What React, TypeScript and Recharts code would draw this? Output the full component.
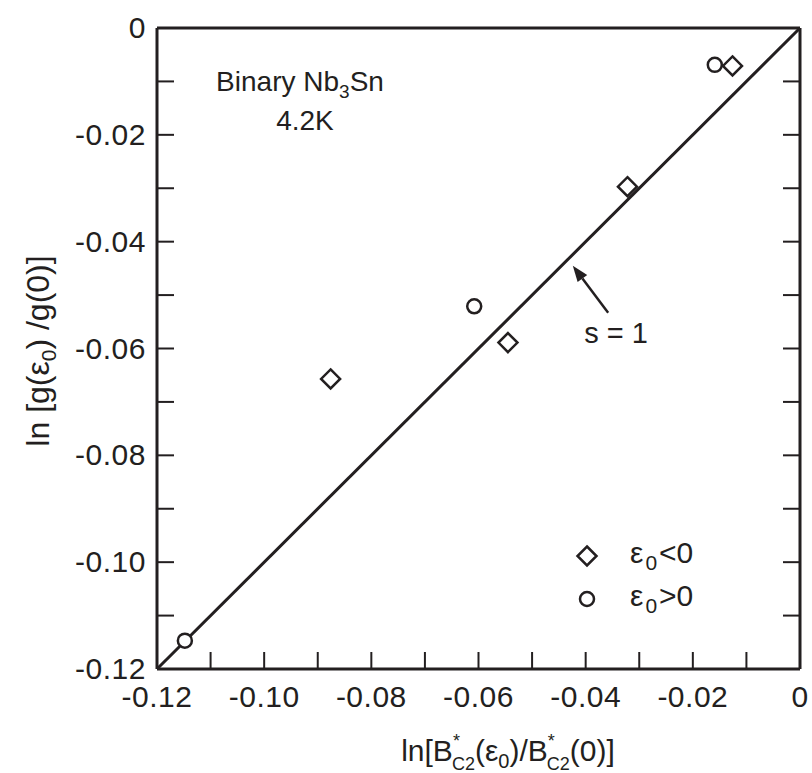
import { ScatterChart, Scatter, XAxis, YAxis, ReferenceLine, Legend } from "recharts"

// strain data
const negStrain = [
  { x: -0.0876, y: -0.0657 },
  { x: -0.0545, y: -0.0589 },
  { x: -0.0322, y: -0.0297 },
  { x: -0.0126, y: -0.0071 },
]
const posStrain = [
  { x: -0.1148, y: -0.1147 },
  { x: -0.0608, y: -0.0521 },
  { x: -0.0159, y: -0.0069 },
]
// s = 1 line and its arrow
const unityLine = [
  { x: -0.12, y: -0.12 },
  { x: 0, y: 0 },
]
const arrowSeg = [
  { x: -0.0358, y: -0.0533 },
  { x: -0.0424, y: -0.0445 },
]

const xTicks = [-0.12, -0.11, -0.1, -0.09, -0.08, -0.07, -0.06, -0.05, -0.04, -0.03, -0.02, -0.01, 0]
const yTicks = [-0.12, -0.11, -0.1, -0.09, -0.08, -0.07, -0.06, -0.05, -0.04, -0.03, -0.02, -0.01, 0]

const INK = "#231f20"
const FONT = "'Liberation Sans', Arial, Helvetica, sans-serif"
const TICK_LEN = 17

const isMajor = (v: number) => Math.round(Math.abs(v) * 100) % 2 === 0
const fmt = (v: number) => (Math.abs(v) < 1e-9 ? "0" : v.toFixed(2))

function BottomTick(props: any) {
  const { x, y, payload } = props
  return (
    <g>
      <line x1={x} y1={y} x2={x} y2={y - TICK_LEN} stroke={INK} strokeWidth={2} />
      {isMajor(payload.value) && (
        <text x={x} y={y + 38} textAnchor="middle" fontSize={30} letterSpacing={0.5} fontFamily={FONT} fill={INK}>
          {fmt(payload.value)}
        </text>
      )}
    </g>
  )
}

function TopTick(props: any) {
  const { x, y } = props
  return <line x1={x} y1={y} x2={x} y2={y + TICK_LEN} stroke={INK} strokeWidth={2} />
}

function LeftTick(props: any) {
  const { x, y, payload } = props
  return (
    <g>
      <line x1={x} y1={y} x2={x + TICK_LEN} y2={y} stroke={INK} strokeWidth={2} />
      {isMajor(payload.value) && (
        <text x={x - 11} y={y + 10} textAnchor="end" fontSize={30} letterSpacing={0.5} fontFamily={FONT} fill={INK}>
          {fmt(payload.value)}
        </text>
      )}
    </g>
  )
}

function RightTick(props: any) {
  const { x, y } = props
  return <line x1={x} y1={y} x2={x - TICK_LEN} y2={y} stroke={INK} strokeWidth={2} />
}

function DiamondShape(props: any) {
  const { cx, cy } = props
  const r = 9.5
  return (
    <polygon
      points={`${cx},${cy - r} ${cx + r},${cy} ${cx},${cy + r} ${cx - r},${cy}`}
      fill="#fff"
      stroke={INK}
      strokeWidth={2.5}
    />
  )
}

function CircleShape(props: any) {
  const { cx, cy } = props
  return <circle cx={cx} cy={cy} r={7} fill="#fff" stroke={INK} strokeWidth={2.5} />
}

function ArrowShape(props: any) {
  const { x1, y1, x2, y2 } = props
  const ang = Math.atan2(y2 - y1, x2 - x1)
  const len = 16
  const half = 6
  const bx = x2 - len * Math.cos(ang)
  const by = y2 - len * Math.sin(ang)
  const px = -Math.sin(ang) * half
  const py = Math.cos(ang) * half
  return (
    <g>
      <line x1={x1} y1={y1} x2={bx} y2={by} stroke={INK} strokeWidth={2.5} />
      <polygon points={`${x2},${y2} ${bx + px},${by + py} ${bx - px},${by - py}`} fill={INK} />
    </g>
  )
}

function LegendBox() {
  const row = (shape: "diamond" | "circle", sign: string) => (
    <div style={{ display: "flex", alignItems: "center", height: 43 }}>
      <svg width={24} height={24} style={{ marginRight: 31 }}>
        {shape === "diamond" ? <DiamondShape cx={12} cy={12} /> : <CircleShape cx={12} cy={12} />}
      </svg>
      <span style={{ fontSize: 30, fontFamily: FONT, color: INK, lineHeight: 1, whiteSpace: "nowrap" }}>
        ε<sub style={{ fontSize: 21, verticalAlign: -7, margin: "0 2px" }}>0</sub>
        {sign}0
      </span>
    </div>
  )
  return (
    <div>
      {row("diamond", "<")}
      {row("circle", ">")}
    </div>
  )
}

export default function App() {
  return (
    <div style={{ position: "absolute", left: 0, top: 0, width: 812, height: 773, background: "#fff" }}>
      <ScatterChart width={812} height={773} margin={{ top: 27, right: 11, bottom: 0, left: 0 }}>
        <XAxis
          type="number"
          dataKey="x"
          domain={[-0.12, 0]}
          ticks={xTicks}
          interval={0}
          height={104}
          tickSize={0}
          tickMargin={0}
          tickLine={false}
          tick={BottomTick}
          axisLine={{ stroke: INK, strokeWidth: 3 }}
          allowDataOverflow
        />
        <XAxis
          xAxisId="top"
          orientation="top"
          type="number"
          domain={[-0.12, 0]}
          ticks={xTicks}
          interval={0}
          height={1}
          tickSize={0}
          tickMargin={0}
          tickLine={false}
          tick={TopTick}
          axisLine={{ stroke: INK, strokeWidth: 3 }}
          allowDataOverflow
        />
        <YAxis
          type="number"
          dataKey="y"
          domain={[-0.12, 0]}
          ticks={yTicks}
          interval={0}
          width={157}
          tickSize={0}
          tickMargin={0}
          tickLine={false}
          tick={LeftTick}
          axisLine={{ stroke: INK, strokeWidth: 3 }}
          allowDataOverflow
        />
        <YAxis
          yAxisId="right"
          orientation="right"
          type="number"
          domain={[-0.12, 0]}
          ticks={yTicks}
          interval={0}
          width={1}
          tickSize={0}
          tickMargin={0}
          tickLine={false}
          tick={RightTick}
          axisLine={{ stroke: INK, strokeWidth: 3 }}
          allowDataOverflow
        />
        <ReferenceLine segment={unityLine} stroke={INK} strokeWidth={3} ifOverflow="visible" />
        <ReferenceLine segment={arrowSeg} shape={ArrowShape} ifOverflow="visible" />
        <Scatter data={negStrain} shape={DiamondShape} isAnimationActive={false} />
        <Scatter data={posStrain} shape={CircleShape} isAnimationActive={false} />
        <Legend
          layout="vertical"
          align="center"
          verticalAlign="middle"
          content={LegendBox}
          wrapperStyle={{ position: "absolute", left: 575, top: 534, width: 200 }}
        />
      </ScatterChart>
      <svg
        width={812}
        height={773}
        style={{ position: "absolute", left: 0, top: 0, pointerEvents: "none" }}
        fontFamily={FONT}
        fill={INK}
      >
        <text x={300} y={91} textAnchor="middle" fontSize={28}>
          Binary Nb<tspan fontSize={19} dy={7}>3</tspan>
          <tspan dy={-7}>Sn</tspan>
        </text>
        <text x={305} y={130} textAnchor="middle" fontSize={28}>
          4.2K
        </text>
        <text x={616} y={343} textAnchor="middle" fontSize={29}>
          s = 1
        </text>
        <text transform="translate(49,351) rotate(-90)" textAnchor="middle" fontSize={32}>
          ln [g(ε<tspan fontSize={21} dy={7}>0</tspan>
          <tspan dy={-7}>) /g(0)]</tspan>
        </text>
        <text x={508} y={761} textAnchor="middle" fontSize={30}>
          ln[B<tspan fontSize={18} dy={-14}>*</tspan>
          <tspan fontSize={18} dx={-8} dy={23}>C2</tspan>
          <tspan dy={-9}>(ε</tspan>
          <tspan fontSize={20} dy={7}>0</tspan>
          <tspan dy={-7}>)/B</tspan>
          <tspan fontSize={18} dy={-14}>*</tspan>
          <tspan fontSize={18} dx={-8} dy={23}>C2</tspan>
          <tspan dy={-9}>(0)]</tspan>
        </text>
      </svg>
    </div>
  )
}
